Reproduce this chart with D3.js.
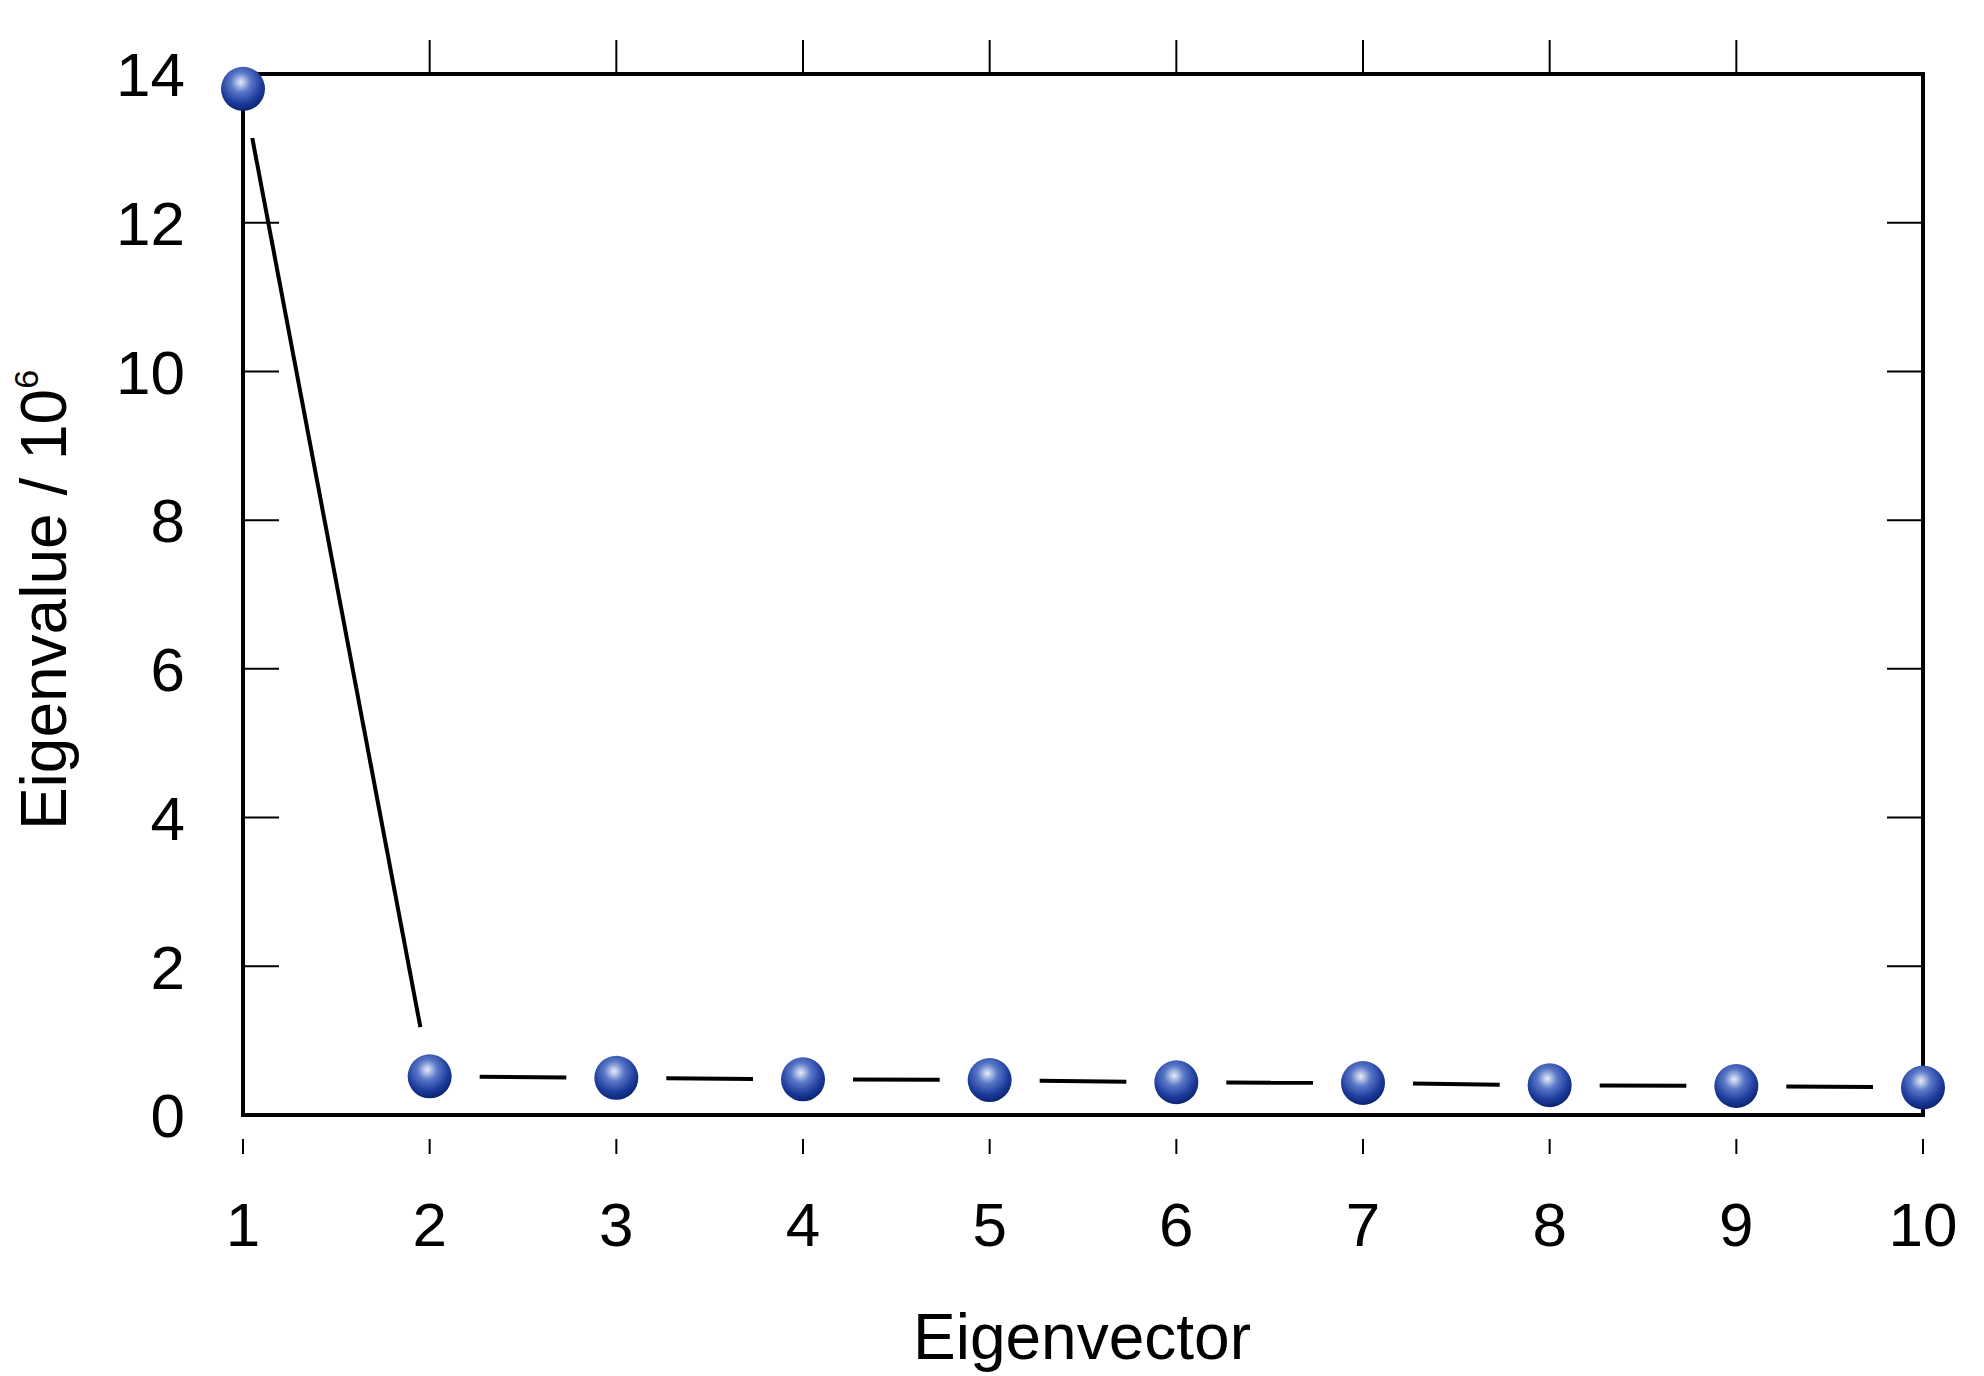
<!DOCTYPE html><html><head><script src="https://cdn.jsdelivr.net/npm/d3@7"></script>
<style>body{margin:0;background:#fff}text{font-family:Arial,"Liberation Sans",sans-serif}</style></head><body>
<svg id="c" width="1984" height="1376"></svg>
<script>
const xs=[1,2,3,4,5,6,7,8,9,10];
const vals=[13.8,0.52,0.50,0.48,0.47,0.44,0.43,0.40,0.39,0.37];
const yTicks=[0,2,4,6,8,10,12,14];
const L=243,R=1923,T=74,B=1115;
const svg=d3.select("#c");
const x=d3.scaleLinear().domain([1,10]).range([L,R]);
const y=d3.scaleLinear().domain([0,14]).range([B,T]);
const defs=svg.append("defs");
const g=defs.append("radialGradient").attr("id","sph").attr("cx","45%").attr("cy","35%").attr("r","65%");
g.append("stop").attr("offset","0%").attr("stop-color","#e8ecf8");
g.append("stop").attr("offset","35%").attr("stop-color","#5a78c8");
g.append("stop").attr("offset","75%").attr("stop-color","#1b3a9a");
g.append("stop").attr("offset","100%").attr("stop-color","#0c2470");
svg.append("rect").attr("x",L).attr("y",T).attr("width",R-L).attr("height",B-T).attr("fill","none").attr("stroke","#000").attr("stroke-width",4);
yTicks.forEach(v=>{
 svg.append("line").attr("x1",L).attr("x2",L+36).attr("y1",y(v)).attr("y2",y(v)).attr("stroke","#000").attr("stroke-width",2);
 svg.append("line").attr("x1",R-36).attr("x2",R).attr("y1",y(v)).attr("y2",y(v)).attr("stroke","#000").attr("stroke-width",2);
 svg.append("text").attr("x",L-58).attr("y",y(v)).attr("dy","0.36em").attr("text-anchor","end").attr("font-size",62).text(v);
});
xs.forEach(v=>{
 if(v>1&&v<10) svg.append("line").attr("x1",x(v)).attr("x2",x(v)).attr("y1",T-34).attr("y2",T).attr("stroke","#000").attr("stroke-width",2);
 svg.append("line").attr("x1",x(v)).attr("x2",x(v)).attr("y1",B+24).attr("y2",B+39).attr("stroke","#000").attr("stroke-width",2);
 svg.append("text").attr("x",x(v)).attr("y",1224).attr("dy","0.36em").attr("text-anchor","middle").attr("font-size",62).text(v);
});
const gap=50;
for(let i=0;i<xs.length-1;i++){
 const x1=x(xs[i]),y1=y(vals[i]),x2=x(xs[i+1]),y2=y(vals[i+1]);
 const d=Math.hypot(x2-x1,y2-y1),ux=(x2-x1)/d,uy=(y2-y1)/d;
 svg.append("line").attr("x1",x1+ux*gap).attr("y1",y1+uy*gap).attr("x2",x2-ux*gap).attr("y2",y2-uy*gap).attr("stroke","#000").attr("stroke-width",4);
}
svg.selectAll("circle.p").data(xs).enter().append("circle").attr("cx",d=>x(d)).attr("cy",(d,i)=>y(vals[i])).attr("r",22).attr("fill","url(#sph)");
svg.append("text").attr("x",1082).attr("y",1336).attr("dy","0.36em").attr("text-anchor","middle").attr("font-size",64).text("Eigenvector");
const yl=svg.append("text").attr("transform","translate(66,600) rotate(-90)").attr("text-anchor","middle").attr("font-size",64);
yl.append("tspan").text("Eigenvalue / 10");
yl.append("tspan").attr("font-size",34).attr("dy",-28).text("6");
</script></body></html>
